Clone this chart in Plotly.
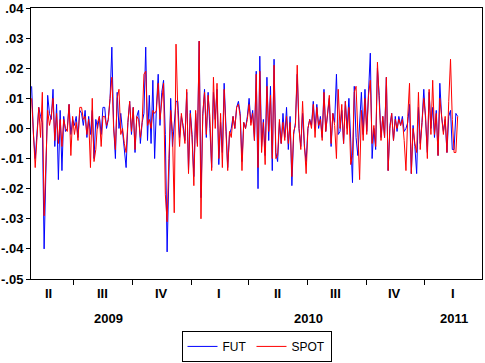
import pandas as pd
import plotly.graph_objects as go

# ---- data (daily returns) ----
fut = [.014,-.002,-.010,.000,.007,.004,.002,-.040,-.013,.011,.005,.003,.013,-.006,.008,-.017,.006,-.014,.004,-.001,
       .000,.008,-.002,.003,.001,.004,-.003,.006,.005,.001,.006,-.003,.004,-.002,
       .006,-.010,.003,.000,.004,-.002,.007,.007,.000,.003,.010,.027,.001,-.010,.012,.000,.005,-.001,-.006,-.013,.002,
       .009,-.002,.007,-.008,.004,.006,-.005,.002,.005,.027,-.004,.011,-.005,.016,
       -.010,.007,.018,.001,.012,.016,-.002,-.041,-.012,.010,-.006,.002,.009,.009,-.003,.004,.001,-.004,.012,-.014,
       .006,-.002,-.016,.005,-.005,.029,-.023,.004,.013,-.003,.012,.000,-.013,.012,.003,
       .013,-.012,.002,-.008,.015,-.001,-.013,-.002,.000,.004,.000,.007,.009,.005,-.011,.002,.000,.004,.010,.002,
       .006,-.004,.019,-.020,.024,-.006,.003,-.009,.017,-.004,.014,-.014,.023,-.008,
       -.011,.002,-.005,.005,-.003,.007,-.007,.004,-.019,-.002,.002,.018,.000,-.006,.005,-.006,-.011,.000,.003,.001,
       .009,.000,.008,.000,.004,-.003,.013,-.001,.004,.010,-.006,.005,.002,.018,-.002,
       -.001,.006,-.005,.009,.000,.010,-.004,-.018,.014,-.003,-.009,.004,.012,-.002,.013,-.001,.014,.025,-.010,.000,
       -.007,.020,.011,-.003,.004,-.003,.017,-.014,.001,.005,-.004,.004,-.001,.004,.001,
       .004,-.001,.000,.002,.008,-.015,.001,-.006,-.015,.007,-.005,.002,.013,.003,-.008,.012,.000,.007,-.003,.006,
       -.009,.015,.004,-.001,.003,-.008,.004,.006,-.007,-.007,.005,.004]
spot = [.010,-.001,-.013,-.003,.007,-.003,.012,-.029,-.012,.006,.001,.004,.010,-.004,.005,-.005,.003,-.006,.003,.000,
        -.001,.008,-.009,.004,-.002,.002,-.004,.007,.007,.003,.004,-.002,.003,-.013,
        .010,-.011,-.007,.002,.004,-.006,.004,.004,.001,.003,.010,.017,.000,-.007,.010,.013,-.002,.000,-.005,-.008,.002,
        .009,-.001,.007,-.007,.004,.003,-.003,.002,.018,.019,.001,.003,.000,.006,
        .005,.006,.015,.003,.008,.015,-.022,-.031,-.010,.006,-.001,-.028,.028,.006,-.006,.005,.000,-.005,.013,-.015,
        .005,-.003,-.019,.006,-.006,.029,-.030,.005,.012,-.002,.011,.004,-.014,.017,.000,
        .015,-.010,.005,-.013,.013,-.001,-.014,-.001,-.003,.004,.000,.007,.008,.004,-.014,.002,.000,.003,.008,.001,
        .005,-.004,.018,-.013,.019,-.008,.002,-.012,.014,-.001,.011,-.010,.021,-.010,
        -.009,.003,-.005,.002,-.004,.004,-.005,.002,-.016,-.001,.001,.021,.000,-.007,.009,-.005,-.015,.000,.003,.000,
        .008,-.003,.007,.001,.003,-.004,.012,-.001,.004,.011,-.005,.005,.001,-.010,.013,
        .000,.008,-.005,.009,-.002,.007,-.012,-.009,.012,.014,-.005,-.017,.006,-.004,.010,-.002,.011,.016,-.005,.001,
        -.006,.022,.009,-.004,.004,-.003,.017,-.014,.000,.005,-.004,.003,.000,.003,.001,
        .003,-.004,-.014,.004,.015,-.015,.000,-.005,-.008,.012,-.007,.002,.010,.004,-.010,.013,-.002,.016,-.002,.005,
        -.009,.010,.003,-.002,.004,-.008,.009,.023,.003,-.008,-.008,.004]
dates = pd.date_range("2009-04-27", "2011-02-21", periods=len(fut))

series_names = ["FUT", "SPOT"]
quarter_starts = ["2009-07-01", "2009-10-01", "2010-01-01", "2010-04-01",
                  "2010-07-01", "2010-10-01", "2011-01-01"]
quarter_labels = ["II", "III", "IV", "I", "II", "III", "IV", "I"]
quarter_label_dates = ["2009-05-24", "2009-08-15", "2009-11-15", "2010-02-14",
                       "2010-05-16", "2010-08-15", "2010-11-15", "2011-02-14"]
year_labels = ["2009", "2010", "2011"]
year_label_dates = ["2009-08-25", "2010-07-03", "2011-02-16"]
y_tickvals = [0.04, 0.03, 0.02, 0.01, 0.0, -0.01, -0.02, -0.03, -0.04, -0.05]
y_ticktext = [".04", ".03", ".02", ".01", ".00", "-.01", "-.02", "-.03", "-.04", "-.05"]

fig = go.Figure()
fig.add_trace(go.Scatter(x=dates, y=fut, mode="lines", name=series_names[0],
                         line=dict(color="#0000FF", width=1)))
fig.add_trace(go.Scatter(x=dates, y=spot, mode="lines", name=series_names[1],
                         line=dict(color="#FF0000", width=1)))

bold = dict(family="Liberation Sans", size=13, color="black", weight="bold")

for lab, d in zip(quarter_labels, quarter_label_dates):
    fig.add_annotation(x=d, xref="x", y=-0.055, yref="paper", text=lab,
                       showarrow=False, font=bold, yanchor="middle")
for lab, d in zip(year_labels, year_label_dates):
    fig.add_annotation(x=d, xref="x", y=-0.144, yref="paper", text=lab,
                       showarrow=False, font=bold, yanchor="middle")

fig.update_layout(
    width=485, height=363,
    margin=dict(l=31, r=3, t=8, b=84, autoexpand=False),
    paper_bgcolor="white", plot_bgcolor="white",
    showlegend=True,
    legend=dict(orientation="h", x=0.5, xanchor="center",
                yref="container", y=0.003, yanchor="bottom",
                bordercolor="black", borderwidth=1,
                font=dict(family="Liberation Sans", size=12, color="black"),
                itemwidth=30, tracegroupgap=0),
    xaxis=dict(type="date", range=["2009-04-26", "2011-03-31"], automargin=False,
               tickvals=quarter_starts, ticktext=[""] * len(quarter_starts),
               ticks="outside", ticklen=5, tickcolor="black", tickwidth=1,
               showgrid=False, zeroline=False,
               showline=True, linecolor="black", linewidth=1, mirror=True),
    yaxis=dict(range=[-0.05, 0.04], tickvals=y_tickvals, ticktext=y_ticktext,
               automargin=False,
               ticks="outside", ticklen=4, tickcolor="black", tickwidth=1,
               tickfont=bold, showgrid=False, zeroline=False,
               showline=True, linecolor="black", linewidth=1, mirror=True),
)

fig.write_html("out.html", config={"displayModeBar": False},
               post_script="document.body.style.margin='0';document.body.style.overflow='hidden';")
